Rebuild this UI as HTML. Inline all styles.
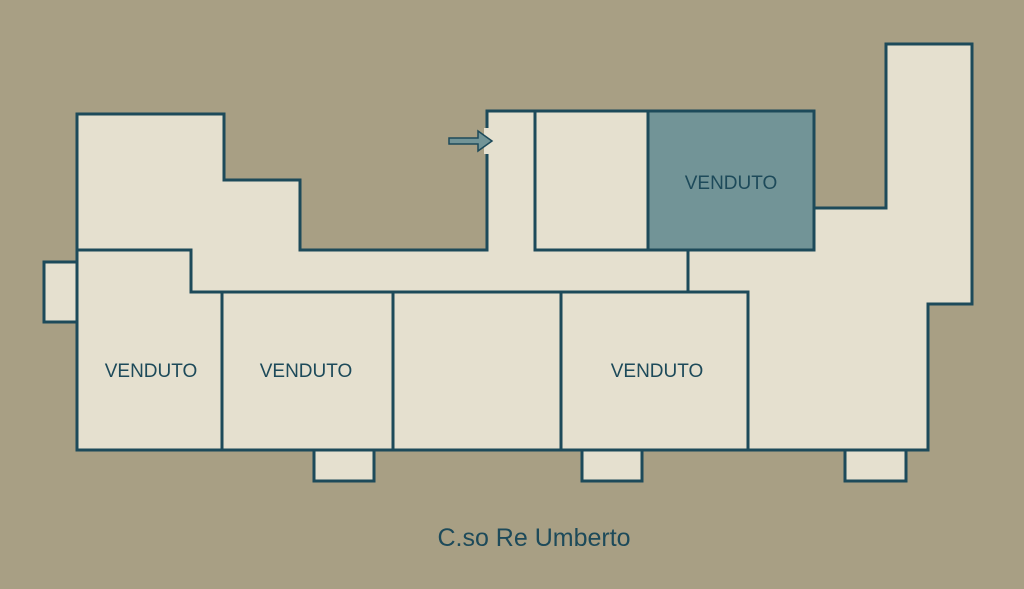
<!DOCTYPE html>
<html><head><meta charset="utf-8"><style>
html,body{margin:0;padding:0;background:#a89f84;}
svg{display:block}
text{font-family:"Liberation Sans",sans-serif;fill:#1d4a5a}
</style></head><body>
<svg width="1024" height="589" viewBox="0 0 1024 589">
<rect width="1024" height="589" fill="#a89f84"/>
<g stroke="#1d4a5a" stroke-width="3" fill="#e5e0cf">
<rect x="44" y="262" width="33" height="60"/>
<rect x="314" y="450" width="60" height="31"/>
<rect x="582" y="450" width="60" height="31"/>
<rect x="845" y="450" width="61" height="31"/>
<polygon points="77,114 224,114 224,180 300,180 300,250 487,250 487,111 814,111 814,208 886,208 886,44 972,44 972,304 928,304 928,450 77,450"/>
<rect x="648" y="111" width="166" height="139" fill="#729497"/>
<polyline fill="none" points="77,250 191,250 191,292 222,292 222,450"/>
<polyline fill="none" points="191,292 748,292 748,450"/>
<line x1="393" y1="292" x2="393" y2="450"/>
<line x1="561" y1="292" x2="561" y2="450"/>
<polyline fill="none" points="535,111 535,250 814,250"/>
<line x1="688" y1="250" x2="688" y2="292"/>
</g>
<rect x="484" y="128" width="6" height="26" fill="#e5e0cf"/>
<path d="M449,138 L478,138 L478,131 L492,141 L478,151 L478,144 L449,144 Z" fill="#729497" stroke="#1d4a5a" stroke-width="1.5"/>
<g font-size="19" text-anchor="middle">
<text x="731" y="189">VENDUTO</text>
<text x="151" y="377">VENDUTO</text>
<text x="306" y="377">VENDUTO</text>
<text x="657" y="377">VENDUTO</text>
</g>
<text x="534" y="546" font-size="25" text-anchor="middle">C.so Re Umberto</text>
</svg>
</body></html>
